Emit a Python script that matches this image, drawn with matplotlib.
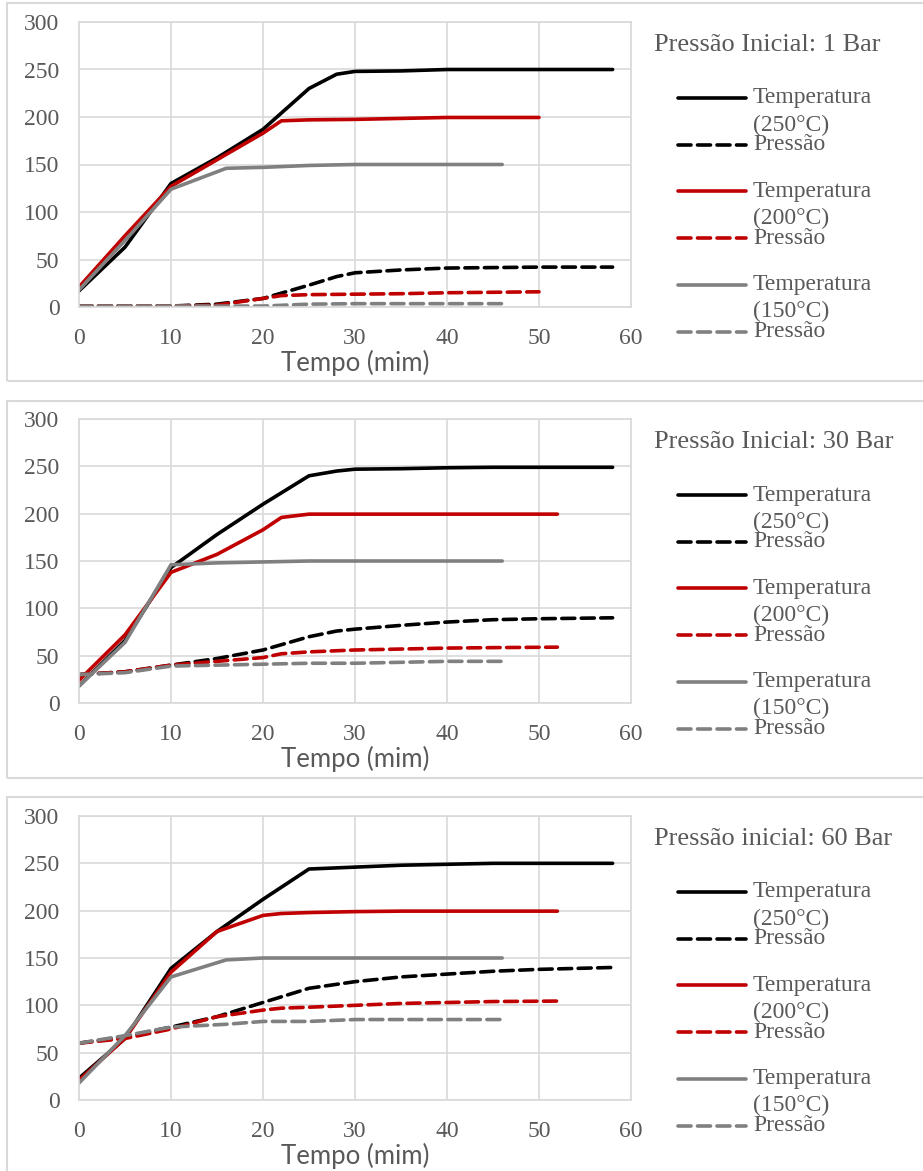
import matplotlib
matplotlib.use("Agg")
import matplotlib.pyplot as plt
from matplotlib.lines import Line2D
from matplotlib.patches import Rectangle

# ---------------- data ----------------
# Initial pressure 1 bar
p1_t250 = [0, 5, 10, 15, 20, 25, 28, 30, 35, 40, 45, 50, 58]
p1_T250 = [17, 63, 130, 157, 187, 230, 245, 248, 248.5, 250, 250, 250, 250]
p1_P250 = [1, 1, 1, 3, 9, 23, 32, 36, 39, 41, 41.5, 42, 42]
p1_t200 = [0, 5, 10, 15, 20, 22, 25, 30, 35, 40, 45, 50]
p1_T200 = [21, 75, 127, 155, 183, 196, 197, 197.5, 198.5, 199.5, 199.5, 199.5]
p1_P200 = [1, 1, 1, 2, 9, 12, 13, 13.5, 14, 15, 15.5, 16]
p1_t150 = [0, 5, 10, 16, 20, 25, 30, 35, 40, 46]
p1_T150 = [18, 70, 124, 146, 147, 149, 150, 150, 150, 150]
p1_P150 = [1, 1, 1, 1, 1, 3, 3.5, 3.5, 3.5, 3.5]

# Initial pressure 30 bar
p2_t250 = [0, 5, 10, 15, 20, 25, 28, 30, 35, 40, 45, 50, 58]
p2_T250 = [18, 66, 143, 178, 210, 240, 245, 247, 247.5, 248.5, 249, 249, 249]
p2_P250 = [30, 33, 40, 47, 56, 70, 76, 78, 82, 85.5, 88, 89, 90]
p2_t200 = [0, 5, 10, 15, 20, 22, 25, 30, 35, 40, 45, 52]
p2_T200 = [24, 72, 138, 157, 183, 196, 199.5, 199.5, 199.5, 199.5, 199.5, 199.5]
p2_P200 = [30, 33, 40, 44, 48, 52, 54, 56, 57, 58, 58.5, 59]
p2_t150 = [0, 5, 10, 15, 20, 25, 30, 35, 40, 46]
p2_T150 = [18, 64, 146, 148, 149, 150, 150, 150, 150, 150]
p2_P150 = [30, 32, 39, 40, 41, 42, 42, 43, 44, 44]

# Initial pressure 60 bar
p3_t250 = [0, 5, 10, 15, 20, 25, 30, 35, 40, 45, 50, 58]
p3_T250 = [23, 65, 139, 178, 212, 244, 246, 248, 249, 250, 250, 250]
p3_P250 = [60, 67, 77, 88, 103, 118, 125, 130, 133, 136, 138, 140]
p3_t200 = [0, 5, 10, 15, 20, 22, 25, 30, 35, 40, 45, 52]
p3_T200 = [21, 65, 135, 178, 195, 197, 198, 199, 199.5, 199.5, 199.5, 199.5]
p3_P200 = [60, 65, 75, 88, 95, 97, 98, 100, 102, 103, 104, 104.5]
p3_t150 = [0, 5, 10, 16, 20, 25, 30, 35, 40, 46]
p3_T150 = [18, 68, 130, 148, 150, 150, 150, 150, 150, 150]
p3_P150 = [60, 68, 77, 80, 83, 83, 85, 85, 85, 85]

panel_titles = ["Pressão Inicial: 1 Bar", "Pressão Inicial: 30 Bar", "Pressão inicial: 60 Bar"]
temp_labels = ["(250°C)", "(200°C)", "(150°C)"]
x_ticks = [0, 10, 20, 30, 40, 50, 60]
y_ticks = [0, 50, 100, 150, 200, 250, 300]

panels = [
    [(p1_t250, p1_T250, p1_P250), (p1_t200, p1_T200, p1_P200), (p1_t150, p1_T150, p1_P150)],
    [(p2_t250, p2_T250, p2_P250), (p2_t200, p2_T200, p2_P200), (p2_t150, p2_T150, p2_P150)],
    [(p3_t250, p3_T250, p3_P250), (p3_t200, p3_T200, p3_P200), (p3_t150, p3_T150, p3_P150)],
]

# ---------------- style ----------------
W, H = 923, 1171
colors = ["#000000", "#C00000", "#808080"]
grid_c = "#D9D9D9"
text_c = "#595959"
serif = "Liberation Serif"
sans = "Lato"
fs = 17
lw = 2.6
dash = (0, (3.6, 1.8))

fig = plt.figure(figsize=(W / 100, H / 100), dpi=100)


def fx(x):
    return x / W


def fy(y):
    return 1 - y / H


# plot-area extents in pixels: (top, bottom) per panel
plot_rows = [(22, 307), (419, 703), (816, 1100)]
frames = [(3, 381), (401, 778), (797, 1200)]
x_left, x_right = 79, 631

for (ftop, fbot) in frames:
    fig.add_artist(Rectangle((fx(7), fy(fbot)), fx(930) - fx(7), fy(ftop) - fy(fbot),
                             transform=fig.transFigure, fill=False,
                             edgecolor=grid_c, lw=1.5))

for k, ((top, bot), series) in enumerate(zip(plot_rows, panels)):
    ax = fig.add_axes([fx(x_left), fy(bot), fx(x_right) - fx(x_left), fy(top) - fy(bot)])
    for c, (t, T, P) in zip(colors, series):
        ax.plot(t, T, color=c, lw=lw, solid_capstyle="round")
        ax.plot(t, P, color=c, lw=lw, linestyle=dash, dash_capstyle="round")
    ax.set_xlim(0, 60)
    ax.set_ylim(0, 300)
    ax.set_xticks(x_ticks)
    ax.set_yticks(y_ticks)
    ax.grid(True, color=grid_c, lw=1.2)
    ax.set_axisbelow(True)
    for s in ax.spines.values():
        s.set_color(grid_c)
        s.set_linewidth(1.2)
    ax.tick_params(length=0, labelsize=fs, labelcolor=text_c)
    ax.tick_params(axis="y", pad=14)
    ax.tick_params(axis="x", pad=15)
    for lab in ax.get_xticklabels() + ax.get_yticklabels():
        lab.set_fontfamily(serif)
    ax.set_xlabel("Tempo (mim)", family=sans, fontsize=18.5, color=text_c, labelpad=1)

    # title to the right of the plot
    fig.text(fx(654), fy(top + 23), panel_titles[k], family=serif, fontsize=19,
             color=text_c, ha="left", va="center")

    # legend drawn alongside
    for i, c in enumerate(colors):
        y_temp = top + 76 + i * 93.3
        y_pres = y_temp + 47
        fig.add_artist(Line2D([fx(678), fx(746)], [fy(y_temp), fy(y_temp)],
                              transform=fig.transFigure, color=c, lw=lw,
                              solid_capstyle="round"))
        fig.add_artist(Line2D([fx(678), fx(746)], [fy(y_pres), fy(y_pres)],
                              transform=fig.transFigure, color=c, lw=lw, linestyle=dash,
                              dash_capstyle="round"))
        fig.text(fx(753), fy(y_temp), "Temperatura", family=serif, fontsize=fs,
                 color=text_c, ha="left", va="center")
        fig.text(fx(753), fy(y_temp + 27), temp_labels[i], family=serif, fontsize=fs,
                 color=text_c, ha="left", va="center")
        fig.text(fx(753), fy(y_pres), "Pressão", family=serif, fontsize=fs,
                 color=text_c, ha="left", va="center")

fig.savefig("out.png", dpi=100, facecolor="white")
